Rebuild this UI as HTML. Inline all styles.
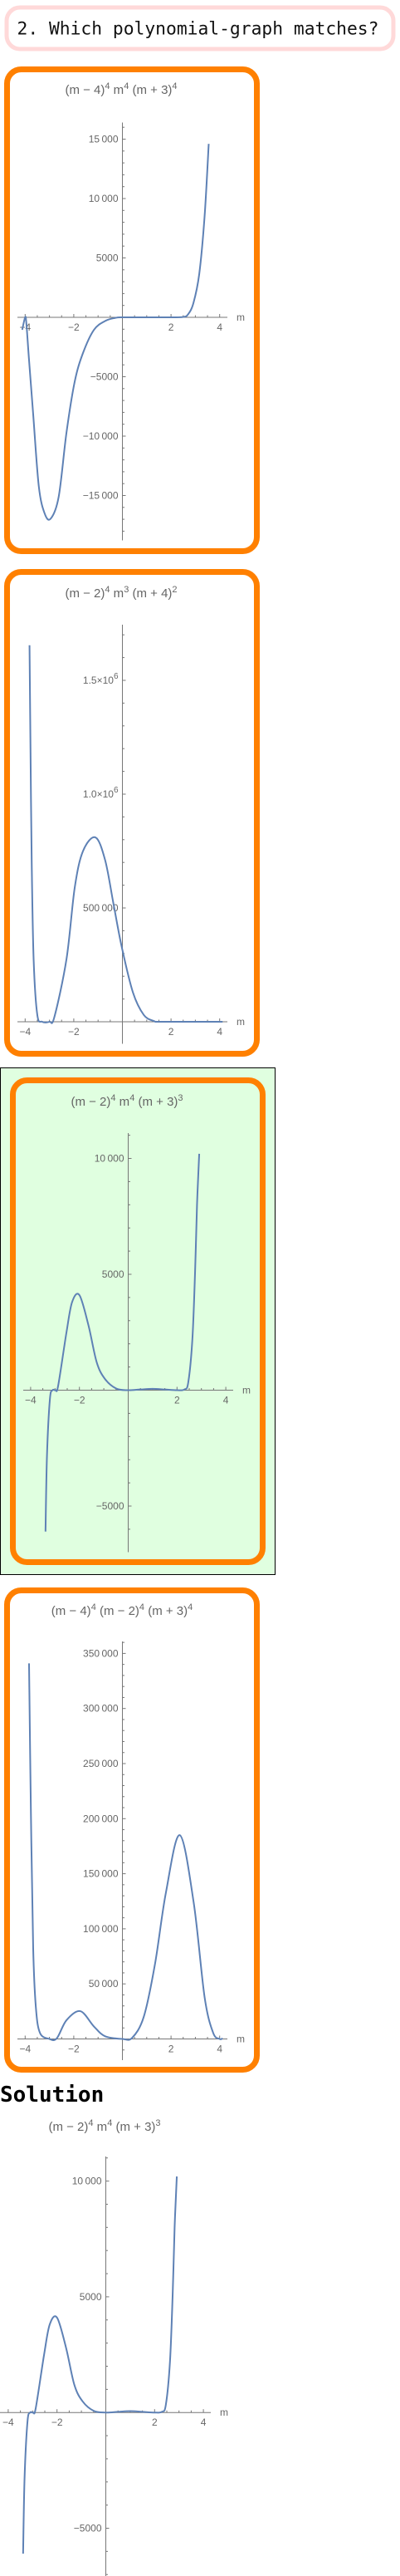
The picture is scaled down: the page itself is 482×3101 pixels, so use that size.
<!DOCTYPE html>
<html><head><meta charset="utf-8">
<style>
html,body{margin:0;padding:0;background:#fff;}
svg{display:block;}
.tk{font-family:"Liberation Sans",sans-serif;font-size:12px;fill:#666;}
.tt{font-family:"Liberation Sans",sans-serif;font-size:15px;fill:#666;}
</style></head>
<body>
<svg id="page" width="482" height="3101" viewBox="0 0 482 3101" xmlns="http://www.w3.org/2000/svg">
  <rect x="8" y="9" width="466" height="50" rx="16" fill="#fff" stroke="#ffd9d9" stroke-width="5"/>
  <text x="20.5" y="41.5" font-family="'DejaVu Sans Mono','Liberation Mono',monospace" font-size="21.3" fill="#111">2. Which polynomial-graph matches?</text>

  <rect x="8.5" y="83.5" width="301" height="580" rx="17" fill="#fff" stroke="#ff8000" stroke-width="7"/>
  <rect x="8.5" y="688.5" width="301" height="580" rx="17" fill="#fff" stroke="#ff8000" stroke-width="7"/>
  <rect x="0.5" y="1285.5" width="331" height="610" fill="#e0ffe0" stroke="#000" stroke-width="1"/>
  <rect x="15.5" y="1300.5" width="301" height="580" rx="17" fill="none" stroke="#ff8000" stroke-width="7"/>
  <rect x="8.5" y="1914.5" width="301" height="577" rx="17" fill="#fff" stroke="#ff8000" stroke-width="7"/>

  <text x="0" y="2530" font-family="'DejaVu Sans Mono','Liberation Mono',monospace" font-weight="bold" font-size="26" fill="#000">Solution</text>
  <g id="charts"></g>
</svg>
<script>
// ---- data arrays ----
const xs1 = [-4.12,-4.0,-3.95,-3.84,-3.67,-3.44,-3.2,-2.95,-2.62,-2.3,-1.96,-1.62,-1.17,-0.7,-0.3,0,1,2,2.5,2.7,2.92,3.16,3.38,3.55];
const ys1 = [-1050,0,-500,-3600,-8150,-14200,-16500,-16950,-15100,-9700,-5400,-3000,-1050,-300,-50,0,0,0,30,250,1200,3650,8500,14600];
const xs2 = [-3.82,-3.78,-3.73,-3.65,-3.5,-3.3,-3.0,-2.8,-2.3,-1.96,-1.62,-1.11,-0.71,-0.37,-0.03,0.43,0.88,1.3,1.5,2.5,3.5,4.12];
const ys2 = [1654000,1200000,700000,270000,30000,0,0,20000,275000,590000,750000,810000,710000,520000,330000,130000,30000,3000,0,0,0,0];
const xs3 = [-3.39,-3.33,-3.21,-3.1,-2.98,-2.87,-2.53,-2.3,-2.0,-1.63,-1.29,-0.95,-0.49,0,0.5,1.0,1.5,2.0,2.3,2.46,2.63,2.74,2.82,2.91];
const ys3 = [-6100,-2830,-390,0,0,200,2500,3800,4100,2800,1200,480,70,0,30,60,30,0,30,330,2200,5100,8000,10200];
const xs4 = [-3.84,-3.76,-3.67,-3.56,-3.39,-3.0,-2.7,-2.3,-1.73,-1.17,-0.71,0,0.4,0.88,1.34,1.79,2.36,2.93,3.38,3.73,4.0,4.12];
const ys4 = [341000,201000,82600,29000,5500,0,500,17000,25200,11300,2400,0,1000,20200,68000,133000,185000,124000,38000,5700,0,500];
const xTickVals = [-4,-2,2,4];
const xTickLabels = ["\u22124","\u22122","2","4"];
const yTicks1 = [15000,10000,5000,-5000,-10000,-15000];
const yLabels1 = ["15\u2009000","10\u2009000","5000","\u22125000","\u221210\u2009000","\u221215\u2009000"];
const yTicks2 = [1500000,1000000,500000];
const yLabels2 = ["1.5\u00d710|6","1.0\u00d710|6","500\u2009000"];
const yTicks3 = [10000,5000,-5000];
const yLabels3 = ["10\u2009000","5000","\u22125000"];
const yTicks4 = [350000,300000,250000,200000,150000,100000,50000];
const yLabels4 = ["350\u2009000","300\u2009000","250\u2009000","200\u2009000","150\u2009000","100\u2009000","50\u2009000"];

const NS = "http://www.w3.org/2000/svg";
const root = document.getElementById('charts');
function mk(tag, attrs, parent){
  const e = document.createElementNS(NS, tag);
  for (const k in attrs) e.setAttribute(k, attrs[k]);
  (parent||root).appendChild(e);
  return e;
}
function title(g, cx, y, parts){
  const t = mk('text', {class:'tt', x:cx, y:y, 'text-anchor':'middle'}, g);
  
  
  parts.forEach(p=>{
    const s = mk('tspan', {}, t);
    s.textContent = p[0];
    const sp = mk('tspan', {dy:-6, 'font-size':11}, t);
    sp.textContent = p[1];
    const back = mk('tspan', {dy:6}, t);
    back.textContent = p[2]||'';
  });
}
function chart(cfg, xsArr, ysArr, yT, yL, name){
  const g = mk('g', {});
  
  
  const X = v => cfg.x0 + v*cfg.sx;
  const Y = v => cfg.y0 - v*cfg.sy;
  title(g, cfg.tx, cfg.ty, cfg.title);
  // axes
  const xa = mk('line', {x1:cfg.xl, x2:cfg.xr, y1:cfg.y0, y2:cfg.y0, stroke:'#777', 'stroke-width':1}, g);
  
  
  const ya = mk('line', {x1:cfg.x0, x2:cfg.x0, y1:cfg.yt, y2:cfg.yb, stroke:'#777', 'stroke-width':1}, g);
  
  
  // x ticks
  for (let v=-4; v<=4; v+=0.5){
    if (v===0) continue;
    const maj = Number.isInteger(v/2);
    mk('line', {x1:X(v), x2:X(v), y1:cfg.y0, y2:cfg.y0-(maj?4:2.5), stroke:'#777'}, g);
  }
  xTickVals.forEach((v,i)=>{
    const t = mk('text', {class:'tk', x:X(v), y:cfg.y0+16, 'text-anchor':'middle'}, g);
    
    
    t.textContent = xTickLabels[i];
  });
  const m = mk('text', {class:'tk', x:cfg.xr+11, y:cfg.y0+4}, g);
  
  
  m.textContent = 'm';
  // y minor ticks
  const lo = Math.ceil((cfg.y0-cfg.yb)/cfg.sy/cfg.minor), hi = Math.floor((cfg.y0-cfg.yt)/cfg.sy/cfg.minor);
  for (let k=lo; k<=hi; k++){
    if (k===0) continue;
    const v = k*cfg.minor;
    const maj = yT.indexOf(v)>=0;
    mk('line', {x1:cfg.x0, x2:cfg.x0+(maj?4:2.5), y1:Y(v), y2:Y(v), stroke:'#777'}, g);
  }
  yT.forEach((v,i)=>{
    const t = mk('text', {class:'tk', x:cfg.x0-5, y:Y(v)+4, 'text-anchor':'end'}, g);
    
    
    const parts = yL[i].split('|');
    if (parts.length>1){
      const a = mk('tspan', {}, t); a.textContent = parts[0];
      const b = mk('tspan', {dy:-6, 'font-size':10}, t); b.textContent = parts[1];
    } else t.textContent = yL[i];
  });
  // curve (Catmull-Rom through data points)
  const P = xsArr.map((x,i)=>[X(x), Y(ysArr[i])]);
  let d = 'M'+P[0][0].toFixed(2)+','+P[0][1].toFixed(2);
  for (let i=0;i<P.length-1;i++){
    const p0=P[Math.max(0,i-1)], p1=P[i], p2=P[i+1], p3=P[Math.min(P.length-1,i+2)];
    const c1=[p1[0]+(p2[0]-p0[0])/6, p1[1]+(p2[1]-p0[1])/6];
    const c2=[p2[0]-(p3[0]-p1[0])/6, p2[1]-(p3[1]-p1[1])/6];
    d += 'C'+c1[0].toFixed(2)+','+c1[1].toFixed(2)+' '+c2[0].toFixed(2)+','+c2[1].toFixed(2)+' '+p2[0].toFixed(2)+','+p2[1].toFixed(2);
  }
  const path = mk('path', {d:d, fill:'none', stroke:'#5e81b5', 'stroke-width':2, 'stroke-linejoin':'round'}, g);
  
  
}
const T1 = [["(m \u2212 4)","4"," m"],["","4"," (m + 3)"],["","4",""]];
const T2 = [["(m \u2212 2)","4"," m"],["","3"," (m + 4)"],["","2",""]];
const T3 = [["(m \u2212 2)","4"," m"],["","4"," (m + 3)"],["","3",""]];
const T4 = [["(m \u2212 4)","4"," (m \u2212 2)"],["","4"," (m + 3)"],["","4",""]];
chart({x0:147.5,sx:29.3,y0:382,sy:71.5/5000,xl:21,xr:274,yt:147.5,yb:650.5,minor:1000,tx:146,ty:113,title:T1}, xs1, ys1, yTicks1, yLabels1, 'chart-option-1');
chart({x0:147.5,sx:29.3,y0:1230,sy:137/500000,xl:21,xr:274,yt:752,yb:1256.5,minor:100000,tx:146,ty:719,title:T2}, xs2, ys2, yTicks2, yLabels2, 'chart-option-2');
chart({x0:154.5,sx:29.4,y0:1673.5,sy:139.5/5000,xl:28,xr:281,yt:1364,yb:1868.5,minor:1000,tx:153,ty:1331,title:T3}, xs3, ys3, yTicks3, yLabels3, 'chart-option-3');
chart({x0:147.5,sx:29.3,y0:2454.5,sy:66.3/50000,xl:21,xr:274,yt:1976,yb:2480,minor:10000,tx:147,ty:1944,title:T4}, xs4, ys4, yTicks4, yLabels4, 'chart-option-4');
chart({x0:127.5,sx:29.4,y0:2904.2,sy:139.3/5000,xl:0,xr:254,yt:2596,yb:3101,minor:1000,tx:126,ty:2565,title:T3}, xs3, ys3, yTicks3, yLabels3, 'chart-solution');
</script>
</body></html>
